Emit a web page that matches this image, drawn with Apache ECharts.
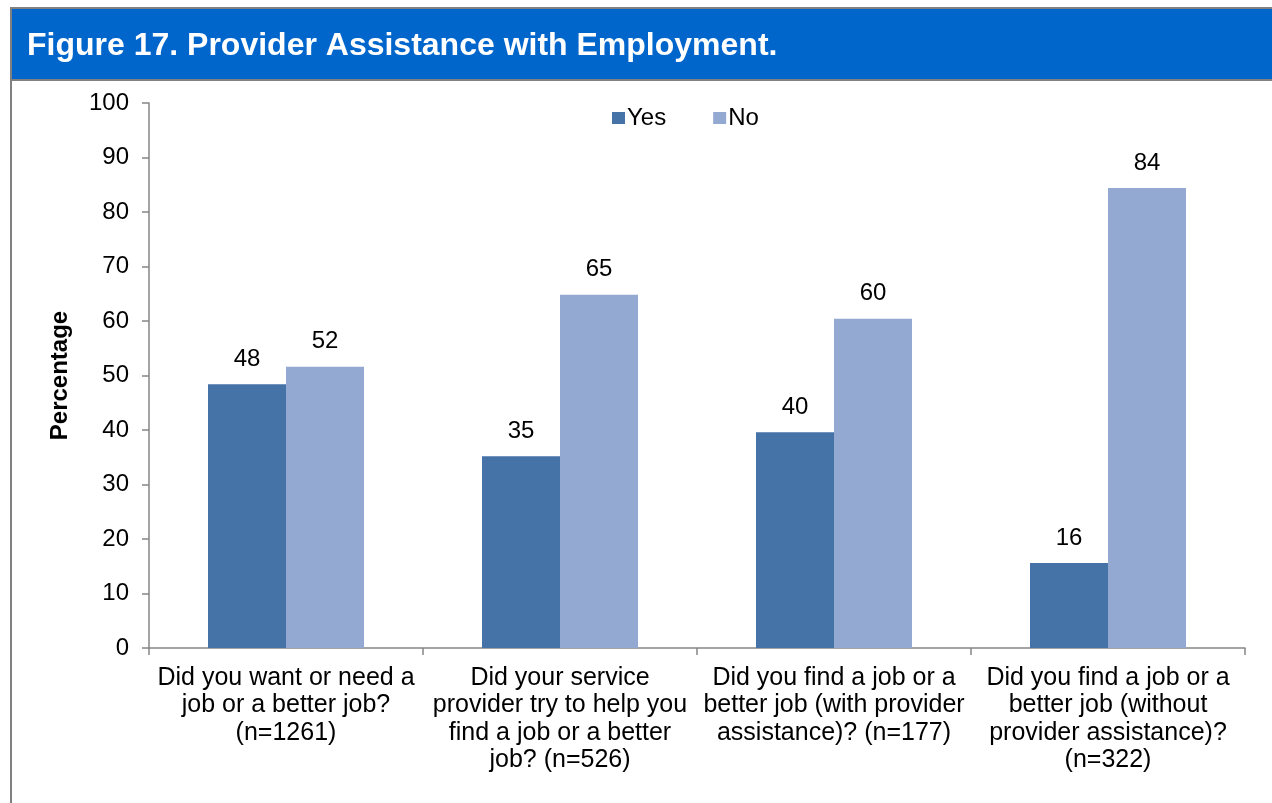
<!DOCTYPE html>
<html>
<head>
<meta charset="utf-8">
<script src="https://cdn.jsdelivr.net/npm/echarts@6/dist/echarts.min.js"></script>
<style>
html,body{margin:0;padding:0;background:#fff;}
#chart{width:1272px;height:803px;}
</style>
</head>
<body>
<div id="chart"></div>
<script>
var categories = [
  'Did you want or need a\njob or a better job?\n(n=1261)',
  'Did your service\nprovider try to help you\nfind a job or a better\njob? (n=526)',
  'Did you find a job or a\nbetter job (with provider\nassistance)? (n=177)',
  'Did you find a job or a\nbetter job (without\nprovider assistance)?\n(n=322)'
];
var yesValues = [48.4, 35.2, 39.6, 15.6];
var noValues = [51.6, 64.8, 60.4, 84.4];
var yTicks = [0, 10, 20, 30, 40, 50, 60, 70, 80, 90, 100];
var titleText = 'Figure 17. Provider Assistance with Employment.';

var FONT = '"Liberation Sans", Arial, sans-serif';
var chart = echarts.init(document.getElementById('chart'));
var labelCfg = {
  show: true, position: 'top', distance: 13,
  color: '#000', fontSize: 24, fontFamily: FONT,
  formatter: function (p) { return Math.round(p.value); }
};
chart.setOption({
  animation: false,
  textStyle: { fontFamily: FONT },
  graphic: [
    { type: 'rect', shape: { x: 10, y: 7, width: 1262, height: 74 }, style: { fill: '#808080' }, z: 0 },
    { type: 'rect', shape: { x: 12, y: 9, width: 1260, height: 70 }, style: { fill: '#0066CC' }, z: 1 },
    { type: 'rect', shape: { x: 10, y: 7, width: 2, height: 796 }, style: { fill: '#808080' }, z: 1 },
    { type: 'text', left: 27, top: 30, style: { text: titleText, fill: '#fff', font: 'bold 32px ' + FONT }, z: 2 }
  ],
  legend: {
    data: ['Yes', 'No'],
    left: 607, top: 101,
    itemWidth: 13, itemHeight: 12, itemGap: 47,
    icon: 'rect',
    textStyle: { fontSize: 24, color: '#000', fontFamily: FONT, padding: [0, 0, 0, -3] }
  },
  grid: { left: 149, right: 27, top: 103, bottom: 155, containLabel: false },
  xAxis: {
    type: 'category',
    data: categories,
    axisLine: { lineStyle: { color: '#868686', width: 1.5 } },
    axisTick: { show: true, alignWithLabel: false, length: 7, lineStyle: { color: '#868686', width: 1.5 } },
    axisLabel: { color: '#000', fontSize: 25, lineHeight: 27.5, margin: 16, interval: 0, fontFamily: FONT }
  },
  yAxis: {
    type: 'value',
    min: 0, max: 100, interval: 10,
    name: 'Percentage',
    nameLocation: 'middle',
    nameGap: 77,
    nameRotate: 90,
    nameTextStyle: { fontSize: 24, fontWeight: 'bold', color: '#000', fontFamily: FONT },
    axisLine: { show: true, lineStyle: { color: '#868686', width: 1.5 } },
    axisTick: { show: true, length: 7, lineStyle: { color: '#868686', width: 1.5 } },
    splitLine: { show: false },
    axisLabel: {
      color: '#000', fontSize: 24, margin: 20, fontFamily: FONT,
      formatter: function (v) { return yTicks.indexOf(v) >= 0 ? String(v) : ''; }
    }
  },
  series: [
    { name: 'Yes', type: 'bar', data: yesValues, barWidth: 78, barGap: '0%',
      itemStyle: { color: '#4572A7' }, label: labelCfg },
    { name: 'No', type: 'bar', data: noValues, barWidth: 78,
      itemStyle: { color: '#93A9D1' }, label: labelCfg }
  ]
});
</script>
</body>
</html>
